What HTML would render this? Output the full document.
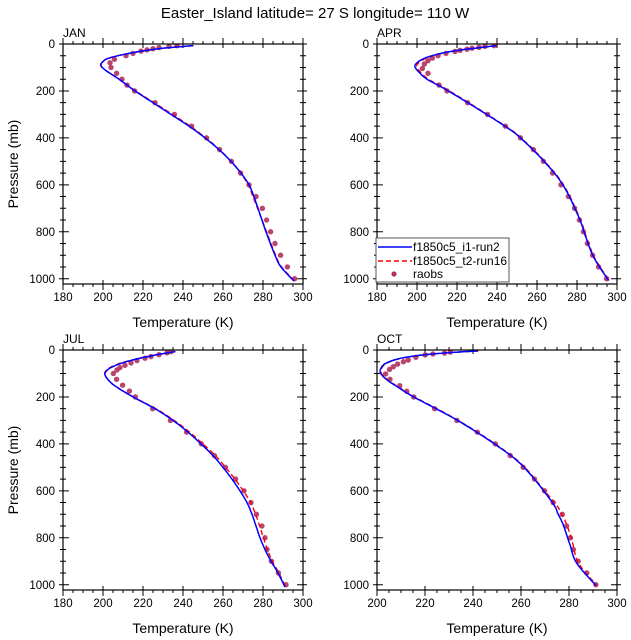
<!DOCTYPE html>
<html><head><meta charset="utf-8"><style>
html,body{margin:0;padding:0;background:#fff;}
svg{display:block;font-family:"Liberation Sans",sans-serif;}
</style></head><body>
<svg id="s" width="631" height="640" viewBox="0 0 631 640" xmlns="http://www.w3.org/2000/svg">
<rect width="631" height="640" fill="#fff"/>
<text x="315" y="18" font-size="15" text-anchor="middle">Easter_Island  latitude= 27 S longitude= 110 W</text>
<g id="p0" transform="translate(63,44)" font-size="11.5">
<text x="0" y="-7" font-size="12">JAN</text>
<g text-anchor="end"><text x="-8" y="4">0</text><text x="-8" y="51">200</text><text x="-8" y="98">400</text><text x="-8" y="145">600</text><text x="-8" y="192">800</text><text x="-8" y="239">1000</text></g>
<g text-anchor="middle"><text x="0" y="257">180</text><text x="40" y="257">200</text><text x="80" y="257">220</text><text x="120" y="257">240</text><text x="160" y="257">260</text><text x="200" y="257">280</text><text x="240" y="257">300</text>
<text x="120" y="283" font-size="14">Temperature (K)</text>
<text transform="translate(-45,120) rotate(-90)" font-size="14">Pressure (mb)</text></g>
</g>
<g id="p1" transform="translate(377,44)" font-size="11.5">
<text x="0" y="-7" font-size="12">APR</text>
<g text-anchor="end"><text x="-8" y="4">0</text><text x="-8" y="51">200</text><text x="-8" y="98">400</text><text x="-8" y="145">600</text><text x="-8" y="192">800</text><text x="-8" y="239">1000</text></g>
<g text-anchor="middle"><text x="0" y="257">180</text><text x="40" y="257">200</text><text x="80" y="257">220</text><text x="120" y="257">240</text><text x="160" y="257">260</text><text x="200" y="257">280</text><text x="240" y="257">300</text>
<text x="120" y="283" font-size="14">Temperature (K)</text></g>
</g>
<g id="p2" transform="translate(63,350)" font-size="11.5">
<text x="0" y="-7" font-size="12">JUL</text>
<g text-anchor="end"><text x="-8" y="4">0</text><text x="-8" y="51">200</text><text x="-8" y="98">400</text><text x="-8" y="145">600</text><text x="-8" y="192">800</text><text x="-8" y="239">1000</text></g>
<g text-anchor="middle"><text x="0" y="257">180</text><text x="40" y="257">200</text><text x="80" y="257">220</text><text x="120" y="257">240</text><text x="160" y="257">260</text><text x="200" y="257">280</text><text x="240" y="257">300</text>
<text x="120" y="283" font-size="14">Temperature (K)</text>
<text transform="translate(-45,120) rotate(-90)" font-size="14">Pressure (mb)</text></g>
</g>
<g id="p3" transform="translate(377,350)" font-size="11.5">
<text x="0" y="-7" font-size="12">OCT</text>
<g text-anchor="end"><text x="-8" y="4">0</text><text x="-8" y="51">200</text><text x="-8" y="98">400</text><text x="-8" y="145">600</text><text x="-8" y="192">800</text><text x="-8" y="239">1000</text></g>
<g text-anchor="middle"><text x="0" y="257">200</text><text x="48" y="257">220</text><text x="96" y="257">240</text><text x="144" y="257">260</text><text x="192" y="257">280</text><text x="240" y="257">300</text>
<text x="120" y="283" font-size="14">Temperature (K)</text></g>
</g>
<g id="leg" font-size="12">
<rect x="376" y="238" width="133" height="44" fill="#fff" stroke="#555" stroke-width="1"/>
<line x1="378" y1="247" x2="412" y2="247" stroke="#00f" stroke-width="1.6"/>
<line x1="378" y1="261" x2="412" y2="261" stroke="#f00" stroke-width="1.6" stroke-dasharray="5,3"/>
<circle cx="394" cy="274" r="2.6" fill="#b03060"/>
<text x="413" y="251">f1850c5_i1-run2</text>
<text x="413" y="265">f1850c5_t2-run16</text>
<text x="413" y="278">raobs</text>
</g>
</svg>
<script>
var NS="http://www.w3.org/2000/svg",S=document.getElementById('s');
function el(n,a,par){var e=document.createElementNS(NS,n);for(var k in a)e.setAttribute(k,a[k]);(par||S).appendChild(e);return e;}
var panels=[
{x:63,y:44,t0:180,t1:300,
b:[[7,245],[20,228],[40,213],[60,203],[75,200],[90,199],[110,201],[150,208],[200,216],[250,225],[300,234],[350,243],[400,251],[450,258],[500,264],[550,269],[600,273],[640,275],[700,277.5],[800,281.5],[900,286],[950,289],[1010,295.5]],
ro:[[7,0],[90,-0.5],[300,0.5],[550,-0.5],[650,-0.8],[800,0],[1010,0]],
d:[[1000,295.8],[950,292.2],[900,288.8],[850,286],[800,283.8],[750,281.8],[700,279.7],[650,276.5],[600,273],[550,268.8],[500,264.2],[450,258.3],[400,251.8],[350,244.3],[300,235.7],[250,226],[200,215.8],[175,212],[150,209.5],[125,206.8],[100,204],[80,203.5],[65,205.7],[50,211.5],[40,215],[30,219],[25,222],[20,225],[15,228],[10,233],[7,237]]},
{x:377,y:44,t0:180,t1:300,
b:[[7,239.5],[15,232],[25,222],[40,212],[60,204],[80,200],[97,199],[120,201],[150,205],[187,213],[257,226.7],[356,245],[406,252.5],[506,264.2],[605,273.3],[740,281],[825,284.5],[911,288.5],[1008,295.8]],
ro:[[7,0],[80,0.6],[300,0],[1008,0]],
d:[[1000,294.8],[950,290.8],[900,287.8],[850,285.2],[800,283.2],[750,281.2],[700,278.8],[650,275.7],[600,272],[550,267.8],[500,263.2],[450,258.2],[400,251.7],[350,244.2],[300,235.3],[250,225.3],[200,215],[175,211],[125,205.5],[104,202.7],[85,203.7],[71,205.5],[60,207.7],[50,210.5],[40,214.5],[32,219],[27,221.5],[22,225],[18,227.5],[14,231],[10,234],[7,238.5]]},
{x:63,y:350,t0:180,t1:300,
b:[[7,236],[20,227],[40,216],[60,208],[80,203],[100,201],[120,202],[150,205.5],[200,215],[250,226],[300,235],[350,242.5],[400,249],[450,255],[500,260],[550,264.5],[600,268.5],[650,272],[700,274.5],[750,276.5],[800,278.5],[850,281],[900,284],[950,287.5],[1010,291]],
ro:[[7,0],[60,-1],[100,-0.5],[300,0.3],[500,1],[650,1.5],[800,1.5],[900,0.3],[1010,0]],
d:[[1000,291.5],[950,287.7],[900,284.2],[850,282],[800,281],[750,279.5],[700,276.7],[650,274],[600,270.5],[550,266.3],[500,261.2],[450,255.7],[400,249.2],[350,241.8],[300,233.7],[250,224.8],[200,216.2],[175,213.2],[150,209.8],[125,206.8],[100,205.2],[85,207],[75,208.5],[65,211],[55,214],[45,217],[35,221],[28,224],[20,228],[12,232],[7,234]]},
{x:377,y:350,t0:200,t1:300,
b:[[4,242],[10,232],[20,220],[35,210],[55,204],[75,201.8],[99,201.5],[130,204.5],[160,209],[199,215.1],[298,233.2],[402,249.2],[497,261],[646,272.8],[700,275.5],[745,277.6],[830,280.4],[908,283.2],[1003,291.2]],
ro:[[4,0],[600,0],[700,1.2],[800,1.2],[900,0.5],[1003,0]],
d:[[1000,291.2],[950,287.4],[900,283.8],[850,281.8],[800,280.6],[750,279],[700,277.2],[650,273.4],[600,269.8],[550,265.6],[500,260.9],[450,255.5],[400,249.3],[350,241.8],[300,233.3],[250,224],[200,215.3],[176,212.4],[152,209.5],[125,205.4],[102,203.6],[83,205.2],[71,206.8],[60,208.6],[50,211],[43,213],[31,216.2],[21,220.1],[17,223.3],[13,228.1],[9,230.5]]}
];
function lin(arr,p){if(p<=arr[0][0])return arr[0][1];for(var i=1;i<arr.length;i++){if(p<=arr[i][0]){var a=arr[i-1],b=arr[i];return a[1]+(b[1]-a[1])*(p-a[0])/(b[0]-a[0]);}}return arr[arr.length-1][1];}
function spline(pts){var out=[];for(var i=0;i<pts.length-1;i++){var p0=pts[Math.max(i-1,0)],p1=pts[i],p2=pts[i+1],p3=pts[Math.min(i+2,pts.length-1)];for(var t=0;t<1;t+=0.1){var t2=t*t,t3=t2*t;var f=function(k){return 0.5*((2*p1[k])+(-p0[k]+p2[k])*t+(2*p0[k]-5*p1[k]+4*p2[k]-p3[k])*t2+(-p0[k]+3*p1[k]-3*p2[k]+p3[k])*t3);};out.push([f(0),f(1)]);}}out.push(pts[pts.length-1]);return out;}
var PS=240/1022.6;
panels.forEach(function(P){
 var sx=240/(P.t1-P.t0);
 function X(t){return P.x+(t-P.t0)*sx;} function Y(p){return P.y+p*PS;}
 var g=el('g',{});
 var tk='';
 for(var p=0;p<=1000;p+=50){var y=Y(p),maj=p%200==0;
  if(maj){tk+='M'+(P.x-4)+' '+y+'H'+(P.x+6)+'M'+(P.x+240-6)+' '+y+'H'+(P.x+244);}
  else{tk+='M'+(P.x-3)+' '+y+'H'+(P.x+3)+'M'+(P.x+237)+' '+y+'H'+(P.x+243);}}
 for(var t=P.t0;t<=P.t1;t+=5){var x=X(t),maj=(t%20==0);var L=maj?6:3;
  tk+='M'+x+' '+(P.y+240-(maj?4:0))+'V'+(P.y+240+L)+'M'+x+' '+(P.y-L)+'V'+(P.y+(maj?4:0));}
 el('path',{d:tk,stroke:'#000','stroke-width':1,fill:'none'},g);
 var clip=el('clipPath',{id:'c'+P.x+P.y},g);el('rect',{x:P.x,y:P.y,width:240,height:240},clip);
 var sp=spline(P.b.map(function(a){return [a[0],a[1]];}));
 var red=sp.map(function(a){return X(a[1]+lin(P.ro,a[0])+0.3).toFixed(1)+','+Y(a[0]).toFixed(1);}).join(' ');
 var blue=sp.map(function(a){return X(a[1]).toFixed(1)+','+Y(a[0]).toFixed(1);}).join(' ');
 var cg=el('g',{'clip-path':'url(#c'+P.x+P.y+')'},g);
 P.d.forEach(function(d){el('circle',{cx:X(d[1]),cy:Y(d[0]),r:2.7,fill:'#b03060','fill-opacity':0.9},cg);});
 el('polyline',{points:red,fill:'none',stroke:'#f00','stroke-width':1.4,'stroke-dasharray':'5,3'},cg);
 el('polyline',{points:blue,fill:'none',stroke:'#00f','stroke-width':1.5},cg);
 el('rect',{x:P.x,y:P.y,width:240,height:240,fill:'none',stroke:'#000','stroke-width':1.2},g);
});
S.appendChild(document.getElementById('leg'));
</script>
</body></html>
